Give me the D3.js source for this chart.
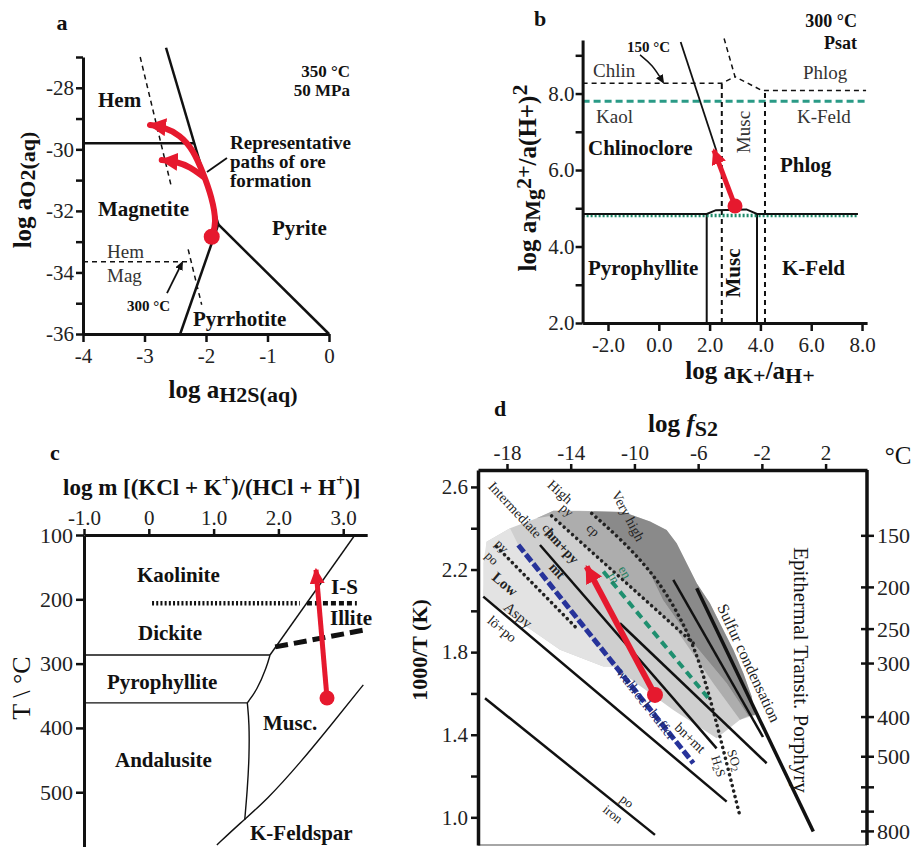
<!DOCTYPE html>
<html><head><meta charset="utf-8">
<script src="https://cdn.jsdelivr.net/npm/d3@7"></script>
<style>body{margin:0;background:#fff}svg{display:block}text{font-family:"Liberation Serif","Times New Roman",serif}</style>
</head><body><svg id="fig" width="919" height="847"></svg>
<script>
// ================= DATA =================
// ---- Panel a : log aO2 vs log aH2S, 350 °C 50 MPa
const aXTicks = [-4,-3,-2,-1,0];
const aYTicks = [-36,-35,-34,-33,-32,-31,-30,-29,-28,-27];
const aYLabels = [-36,-34,-32,-30,-28];
const aHemPy = [[-2.65,-26.7],[-1.80,-32.44]];
const aPyPo = [[-1.80,-32.44],[0,-36]];
const aMagPo = [[-1.80,-32.44],[-2.42,-36]];
const aHemMag = [[-4,-29.8],[-2.19,-29.8]];
const aHemPy300 = [[-3.07,-27.0],[-2.56,-31.24]];
const aHemMag300 = [[-4,-33.65],[-2.26,-33.65]];
const aMagPo300 = [[-2.29,-33.25],[-2.07,-35.05]];
const aPath1 = [[-1.907,-32.84],[-1.826,-32.40],[-1.907,-31.54],[-2.044,-30.78],[-2.207,-30.02],[-2.423,-29.53],[-2.694,-29.27],[-2.911,-29.21]];
const aPath2 = [[-2.044,-30.89],[-2.260,-30.57],[-2.476,-30.40],[-2.720,-30.35]];
const aStart = [-1.907,-32.84];
const aLeader = [[-1.984,-30.74],[-1.659,-30.28]];
const a300Arrow = [[-2.634,-34.67],[-2.39,-33.69]];

// ---- Panel b : log aMg2+/a(H+)2 vs log aK+/aH+, 300 °C Psat
const bXTicks = [-2,0,2,4,6,8];
const bYTicks = [2,3,4,5,6,7,8,9];
const bYLabels = [2,4,6,8];
const bHoriz = [[-3,4.85],[1.886,4.85],[2.25,4.95],[3.45,4.97],[3.866,4.85],[7.84,4.85]];
const bGreenDotted = [[-3,4.81],[7.84,4.81]];
const bVert1 = [[1.886,2],[1.886,4.85]];
const bVert2 = [[3.866,2],[3.866,4.85]];
const bVertDash1 = [[2.48,2],[2.48,8.27]];
const bVertDash2 = [[4.18,2],[4.18,8.08]];
const bChlinDash = [[-3,8.27],[2.48,8.27],[3.0,8.44]];
const bUpperDash = [[2.57,9.44],[3.0,8.44],[4.06,8.08],[8.16,8.08]];
const bGreenDash = [[-3,7.80],[8.16,7.80]];
const b150Line = [[0.86,9.35],[2.28,6.48]];
const bRedPath = [[3.0,5.06],[2.17,6.52]];
const b150Arrow = [[-0.74,9.01],[-0.25,8.75],[0.165,8.30]];

// ---- Panel c : T vs log m[(KCl+K+)/(HCl+H+)]
const cXTicks = [-1,0,1,2,3];
const cYTicks = [100,200,300,400,500];
const cKaolMusc = [[3.18,100],[1.87,286.6]];
const cDickPyro = [[-1,286.6],[1.87,286.6]];
const cPyroCurve = [[1.87,286.6],[1.82,305],[1.67,341],[1.52,361]];
const cPyroAnd = [[-1,361],[1.52,361]];
const cAndCurve = [[1.52,361],[1.55,392],[1.55,445],[1.52,497],[1.48,543]];
const cKfs = [[3.31,333],[2.84,392],[2.33,455],[1.82,512],[1.41,548],[1.05,582]];
const cKaolDickDots = [[0.05,206],[2.33,206]];
const cKaolDickDash = [[2.44,206],[3.21,206]];
const cIllite = [[1.95,274],[3.31,248]];
const cRedPath = [[2.75,353.5],[2.58,154]];

// ---- Panel d : 1000/T vs log fS2
const dTopTicks = [-18,-14,-10,-6,-2,2];
const dLeftTicks = [1.0,1.2,1.4,1.6,1.8,2.0,2.2,2.4,2.6];
const dLeftLabels = [1.0,1.4,1.8,2.2,2.6];
const dRightTicks = [150,200,250,300,400,500,600,700,800];
const dRightLabels = [150,200,250,300,400,500,800];
const dTopEdge = [[-19.28,2.335],[-17.81,2.400],[-16.14,2.448],[-15.09,2.485],[-13.42,2.485],[-10.70,2.479],[-9.02,2.432],[-7.98,2.392],[-7.35,2.327],[-6.72,2.230],[-6.09,2.134],[-5.26,2.037],[-4.63,1.940],[-3.79,1.811],[-3.16,1.698],[-2.64,1.585],[-2.43,1.496]];
const dLightLower = [[-3.37,1.472],[-4.84,1.383],[-7.56,1.520],[-11.33,1.730],[-11.95,1.730],[-14.67,1.811],[-19.49,2.069]];
const dVeryLight = [[-19.49,2.230],[-19.28,2.335],[-17.81,2.400],[-17.29,2.319],[-11.33,1.730],[-11.95,1.730],[-14.67,1.811],[-19.49,2.069]];
const dMedium = [[-16.14,2.448],[-15.09,2.485],[-12.58,2.482],[-12.58,2.472],[-10.91,2.351],[-9.23,2.214],[-8.21,2.053],[-6.30,1.843],[-4.21,1.649],[-2.85,1.491],[-3.37,1.472],[-5.05,1.649],[-7.56,1.930],[-15.20,2.460]];
const dDark = [[-12.58,2.482],[-10.70,2.479],[-9.02,2.432],[-7.98,2.392],[-7.35,2.327],[-6.72,2.230],[-6.09,2.134],[-5.26,2.037],[-4.63,1.940],[-3.79,1.811],[-3.16,1.698],[-2.64,1.585],[-2.43,1.496],[-2.85,1.491],[-4.21,1.649],[-6.30,1.843],[-8.21,2.053],[-9.23,2.214],[-10.91,2.351],[-12.58,2.472]];
const dPoIron = [[-19.38,1.577],[-8.71,0.915]];
const dLow = [[-19.49,2.069],[-4.21,1.076]];
const dBlue = [[-17.29,2.319],[-6.30,1.262]];
const dPyPo = [[-18.65,2.311],[-13.63,1.916]];
const dHmPy = [[-15.93,2.319],[-4.84,1.334]];
const dHigh = [[-15.20,2.460],[-6.30,1.843]];
const dVeryHigh = [[-12.68,2.472],[-10.91,2.351],[-9.23,2.214],[-7.98,2.085],[-6.72,1.908],[-5.88,1.746],[-5.05,1.520],[-4.21,1.262],[-3.37,1.004]];
const dGreen = [[-11.95,2.190],[-5.36,1.577]];
const dLine7 = [[-10.91,1.940],[-1.70,1.262]];
const dLine8 = [[-7.56,2.150],[-1.93,1.389]];
const dSulfur = [[-6.09,2.109],[1.23,0.931]];
const dRedPath = [[-8.71,1.593],[-13.0,2.214]];

// ================= DRAWING =================
const svg = d3.select("#fig");
const defs = svg.append("defs");
const RED = "#e6192e";
function marker(id, color, w, h) {
  defs.append("marker").attr("id", id).attr("viewBox", `0 0 ${w} ${h}`)
    .attr("refX", w - 2).attr("refY", h / 2).attr("markerWidth", w).attr("markerHeight", h)
    .attr("markerUnits", "userSpaceOnUse").attr("orient", "auto")
    .append("path").attr("d", `M0,0L${w},${h / 2}L0,${h}Z`).attr("fill", color);
}
marker("redA", RED, 18, 18);
marker("redS", RED, 16, 15);
marker("blk", "#111", 9, 8);

function path(g, xs, ys, pts, attrs, curve) {
  const gen = d3.line().x(d => xs(d[0])).y(d => ys(d[1]));
  if (curve) gen.curve(curve);
  const p = g.append("path").attr("d", gen(pts)).attr("fill", "none").attr("stroke", "#111");
  for (const k in attrs) p.attr(k, attrs[k]);
  return p;
}
function area(g, xs, ys, pts, fill) {
  g.append("path").attr("d", d3.line().x(d => xs(d[0])).y(d => ys(d[1]))(pts) + "Z")
    .attr("fill", fill).attr("stroke", "none");
}
function text(g, x, y, s, o = {}) {
  const t = g.append("text").attr("x", x).attr("y", y)
    .attr("font-size", o.size || 21).attr("font-weight", o.weight || "bold")
    .attr("text-anchor", o.anchor || "start").attr("dominant-baseline", "central")
    .attr("fill", o.fill || "#111");
  if (o.rotate != null) t.attr("transform", `rotate(${o.rotate},${x},${y})`);
  if (o.italic) t.attr("font-style", "italic");
  if (Array.isArray(s)) {
    let prev = 0;
    s.forEach(p => {
      const sh = p.shift || 0;
      const ts = t.append("tspan").attr("dy", sh - prev).attr("font-size", p.size || o.size || 21).text(p.t);
      if (p.italic) ts.attr("font-style", "italic");
      prev = sh;
    });
  } else t.text(s);
  return t;
}
function styleAxis(g, size, dw) {
  g.attr("font-family", '"Liberation Serif",serif').attr("font-size", size);
  g.select(".domain").attr("stroke", "#111").attr("stroke-width", dw || 3);
  g.selectAll(".tick line").attr("stroke", "#111").attr("stroke-width", 2.5);
  g.selectAll(".tick text").attr("fill", "#222");
}
function dot(g, xs, ys, p, r) {
  g.append("circle").attr("cx", xs(p[0])).attr("cy", ys(p[1])).attr("r", r).attr("fill", RED);
}

// ---------- Panel a ----------
{
  const g = svg.append("g");
  const x = d3.scaleLinear().domain([-4, 0]).range([83, 329]);
  const y = d3.scaleLinear().domain([-36, -27]).range([334, 57]);
  path(g, x, y, aHemPy300, {"stroke-width": 1.5, "stroke-dasharray": "5,4"});
  path(g, x, y, aHemMag300, {"stroke-width": 1.5, "stroke-dasharray": "5,4"});
  path(g, x, y, aMagPo300, {"stroke-width": 1.5, "stroke-dasharray": "5,4"});
  path(g, x, y, aHemPy, {"stroke-width": 2.5});
  path(g, x, y, aPyPo, {"stroke-width": 2.5});
  path(g, x, y, aMagPo, {"stroke-width": 2.5});
  path(g, x, y, aHemMag, {"stroke-width": 2.5});
  path(g, x, y, aLeader, {"stroke-width": 1.8});
  path(g, x, y, a300Arrow, {"stroke-width": 1.8, "marker-end": "url(#blk)"});
  path(g, x, y, aPath1, {"stroke": RED, "stroke-width": 6, "marker-end": "url(#redA)", "stroke-linecap": "round"}, d3.curveBasis);
  path(g, x, y, aPath2, {"stroke": RED, "stroke-width": 6, "marker-end": "url(#redA)", "stroke-linecap": "round"}, d3.curveBasis);
  dot(g, x, y, aStart, 8);
  const gx = g.append("g").attr("transform", "translate(0,334)")
    .call(d3.axisBottom(x).tickValues(aXTicks).tickFormat(String).tickSize(8).tickSizeOuter(0).tickPadding(6));
  styleAxis(gx, 21);
  const gy = g.append("g").attr("transform", "translate(83,0)")
    .call(d3.axisLeft(y).tickValues(aYTicks).tickFormat(d => aYLabels.includes(d) ? String(d) : "").tickSize(7).tickSizeOuter(0).tickPadding(2));
  styleAxis(gy, 21);
  text(g, 62, 22, "a", {size: 22, anchor: "middle"});
  text(g, 350, 71, "350 °C", {size: 17, anchor: "end"});
  text(g, 350, 90, "50 MPa", {size: 17, anchor: "end"});
  text(g, 98, 100, "Hem");
  text(g, 230, 142, "Representative", {size: 19});
  text(g, 230, 161, "paths of ore", {size: 19});
  text(g, 230, 180, "formation", {size: 19});
  text(g, 98, 209, "Magnetite");
  text(g, 272, 228, "Pyrite");
  text(g, 107, 251, "Hem", {size: 19, weight: "normal", fill: "#333"});
  text(g, 107, 275, "Mag", {size: 19, weight: "normal", fill: "#333"});
  text(g, 127, 306, "300 °C", {size: 15});
  text(g, 193, 319, "Pyrrhotite");
  text(g, 233, 389, [{t: "log a"}, {t: "H2S(aq)", shift: 5, size: 22}], {size: 25, anchor: "middle"});
  text(g, 22, 190, [{t: "log a"}, {t: "O2(aq)", shift: 5, size: 22}], {size: 25, anchor: "middle", rotate: -90});
}

// ---------- Panel b ----------
{
  const g = svg.append("g");
  const x = d3.scaleLinear().domain([-3, 8.2]).range([582.6, 867.1]);
  const y = d3.scaleLinear().domain([2, 9.4]).range([323, 40]);
  const dash = {"stroke-width": 1.5, "stroke-dasharray": "5,4"};
  path(g, x, y, bGreenDash, {"stroke": "#2a9a86", "stroke-width": 3, "stroke-dasharray": "7,4"});
  path(g, x, y, bChlinDash, dash);
  path(g, x, y, bUpperDash, dash);
  path(g, x, y, bVertDash1, {"stroke-width": 2, "stroke-dasharray": "5,4"});
  path(g, x, y, bVertDash2, {"stroke-width": 2, "stroke-dasharray": "5,4"});
  path(g, x, y, bVert1, {"stroke-width": 2});
  path(g, x, y, bVert2, {"stroke-width": 2});
  path(g, x, y, bGreenDotted, {"stroke": "#1d8a6a", "stroke-width": 3.5, "stroke-dasharray": "2,2"});
  path(g, x, y, bHoriz, {"stroke-width": 2});
  path(g, x, y, b150Line, {"stroke-width": 1.8});
  path(g, x, y, b150Arrow, {"stroke-width": 1.5, "marker-end": "url(#blk)"}, d3.curveBasis);
  path(g, x, y, bRedPath, {"stroke": RED, "stroke-width": 5, "marker-end": "url(#redS)"});
  dot(g, x, y, bRedPath[0], 7.5);
  const gx = g.append("g").attr("transform", "translate(0,323)")
    .call(d3.axisBottom(x).tickValues(bXTicks).tickFormat(d3.format(".1f")).tickSize(8).tickSizeOuter(0).tickPadding(6));
  gx.selectAll(".tick text").text(d => (d < 0 ? "-" : "") + Math.abs(d).toFixed(1));
  styleAxis(gx, 21);
  const gy = g.append("g").attr("transform", "translate(582.6,0)")
    .call(d3.axisLeft(y).tickValues(bYTicks).tickFormat(d => bYLabels.includes(d) ? d.toFixed(1) : "").tickSize(7).tickSizeOuter(0).tickPadding(1));
  styleAxis(gy, 21);
  text(g, 540, 18, "b", {size: 22, anchor: "middle"});
  text(g, 857, 21, "300 °C", {size: 18, anchor: "end"});
  text(g, 857, 43, "Psat", {size: 18, anchor: "end"});
  text(g, 627, 47, "150 °C", {size: 15});
  const reg = {size: 19, weight: "normal", fill: "#333"};
  text(g, 593, 70, "Chlin", reg);
  text(g, 596, 116, "Kaol", reg);
  text(g, 803, 72, "Phlog", reg);
  text(g, 797, 116, "K-Feld", reg);
  text(g, 743, 132, "Musc", Object.assign({anchor: "middle", rotate: -90}, reg));
  text(g, 588, 148, "Chlinoclore");
  text(g, 780, 165, "Phlog");
  text(g, 588, 268, "Pyrophyllite");
  text(g, 733, 273, "Musc", {anchor: "middle", rotate: -90});
  text(g, 782, 268, "K-Feld");
  text(g, 750, 370, [{t: "log a"}, {t: "K+", shift: 5, size: 22}, {t: "/a", shift: 0}, {t: "H+", shift: 5, size: 22}], {size: 25, anchor: "middle"});
  text(g, 527, 178, [{t: "log a"}, {t: "Mg", shift: 5, size: 22}, {t: "2+", shift: -4, size: 22}, {t: "/a(H+)", shift: 0}, {t: "2", shift: -8, size: 22}], {size: 25, anchor: "middle", rotate: -90});
}

// ---------- Panel c ----------
{
  const g = svg.append("g");
  const x = d3.scaleLinear().domain([-1, 3.37]).range([84, 367.2]);
  const y = d3.scaleLinear().domain([100, 585]).range([535, 846.9]);
  const thin = {"stroke-width": 1.4};
  path(g, x, y, cKaolMusc, thin);
  path(g, x, y, cDickPyro, thin);
  path(g, x, y, cPyroCurve, thin, d3.curveBasis);
  path(g, x, y, cPyroAnd, thin);
  path(g, x, y, cAndCurve, thin, d3.curveBasis);
  path(g, x, y, cKfs, thin, d3.curveBasis);
  path(g, x, y, cKaolDickDots, {"stroke-width": 4.5, "stroke-dasharray": "2,2.2"});
  path(g, x, y, cKaolDickDash, {"stroke-width": 4.5, "stroke-dasharray": "5,3"});
  path(g, x, y, cIllite, {"stroke-width": 5, "stroke-dasharray": "13,6"});
  path(g, x, y, cRedPath, {"stroke": RED, "stroke-width": 5, "marker-end": "url(#redS)"});
  dot(g, x, y, cRedPath[0], 7.5);
  const gx = g.append("g").attr("transform", "translate(0,535)")
    .call(d3.axisTop(x).tickValues(cXTicks).tickFormat(d => d === 0 ? "0" : (d < 0 ? "-" : "") + Math.abs(d).toFixed(1)).tickSize(6).tickSizeOuter(0).tickPadding(4));
  styleAxis(gx, 21);
  const gy = g.append("g").attr("transform", "translate(84,0)")
    .call(d3.axisLeft(y).tickValues(cYTicks).tickFormat(String).tickSize(8).tickSizeOuter(0).tickPadding(3));
  styleAxis(gy, 22);
  text(g, 55, 452, "c", {size: 22, anchor: "middle"});
  text(g, 63, 487, [{t: "log m [(KCl + K"}, {t: "+", shift: -7, size: 16}, {t: ")/(HCl + H", shift: 0}, {t: "+", shift: -7, size: 16}, {t: ")]", shift: 0}], {size: 23});
  text(g, 137, 575, "Kaolinite");
  text(g, 331, 587, "I-S");
  text(g, 330, 618, "Illite");
  text(g, 138, 633, "Dickite");
  text(g, 107, 682, "Pyrophyllite");
  text(g, 263, 723, "Musc.");
  text(g, 115, 760, "Andalusite");
  text(g, 250, 833, "K-Feldspar");
  text(g, 21, 688, "T \\ °C", {size: 26, weight: "normal", anchor: "middle", rotate: -90});
}

// ---------- Panel d ----------
{
  const g = svg.append("g");
  const x = d3.scaleLinear().domain([-19.82, 4.60]).range([478, 867]);
  const y = d3.scaleLinear().domain([0.866, 2.682]).range([845, 470]);
  area(g, x, y, dTopEdge.concat(dLightLower), "#cfcfcf");
  area(g, x, y, dVeryLight, "#e3e3e3");
  area(g, x, y, dMedium, "#adadad");
  area(g, x, y, dDark, "#8a8a8a");
  const solid = {"stroke-width": 2.5};
  const dots = {"stroke-width": 3.5, "stroke-dasharray": "0.1,5.5", "stroke-linecap": "round", "stroke": "#222"};
  path(g, x, y, dPoIron, solid);
  path(g, x, y, dLow, solid);
  path(g, x, y, dPyPo, dots);
  path(g, x, y, dBlue, {"stroke": "#27339a", "stroke-width": 5, "stroke-dasharray": "9,3"});
  path(g, x, y, dHmPy, solid);
  path(g, x, y, dHigh, dots);
  path(g, x, y, dVeryHigh, dots, d3.curveBasis);
  path(g, x, y, dGreen, {"stroke": "#1f8f6f", "stroke-width": 4, "stroke-dasharray": "8,5"});
  path(g, x, y, dLine7, solid);
  path(g, x, y, dLine8, solid);
  path(g, x, y, dSulfur, {"stroke-width": 3.5});
  path(g, x, y, dRedPath, {"stroke": RED, "stroke-width": 6, "marker-end": "url(#redA)"});
  dot(g, x, y, dRedPath[0], 8);
  // frame
  g.append("line").attr("x1", x.range()[0]).attr("x2", x.range()[1]).attr("y1", y.range()[0]).attr("y2", y.range()[0]).attr("stroke", "#888").attr("stroke-width", 1.5);
  g.append("line").attr("x1", x.range()[1]).attr("x2", x.range()[1]).attr("y1", y.range()[1]).attr("y2", y.range()[0]).attr("stroke", "#111").attr("stroke-width", 3.5);
  const gx = g.append("g").attr("transform", "translate(0,470)")
    .call(d3.axisTop(x).tickValues(dTopTicks).tickFormat(String).tickSize(6).tickSizeOuter(0).tickPadding(4));
  styleAxis(gx, 21, 3.5);
  const gy = g.append("g").attr("transform", "translate(478,0)")
    .call(d3.axisLeft(y).tickValues(dLeftTicks).tickFormat(d => dLeftLabels.some(v => Math.abs(v - d) < 1e-9) ? d.toFixed(1) : "").tickSize(7).tickSizeOuter(0).tickPadding(3));
  styleAxis(gy, 21, 3.5);
  dRightTicks.forEach(T => {
    const yy = y(1000 / (T + 273.15));
    g.append("line").attr("x1", 861).attr("x2", 874).attr("y1", yy).attr("y2", yy).attr("stroke", "#111").attr("stroke-width", 2.5);
    if (dRightLabels.includes(T)) text(g, 877, yy, String(T), {size: 22, weight: "normal", fill: "#222"});
  });
  text(g, 500, 408, "d", {size: 22, anchor: "middle"});
  text(g, 683, 423, [{t: "log "}, {t: "f", italic: true}, {t: "S2", shift: 5, size: 22}], {size: 25, anchor: "middle"});
  text(g, 898, 455, "°C", {size: 25, weight: "normal", anchor: "middle"});
  text(g, 419, 650, "1000/T (K)", {size: 22, anchor: "middle", rotate: -90});
  const sm = (s, w) => ({size: s || 13, weight: w || "normal", fill: "#222", anchor: "middle"});
  text(g, 515, 510, "Intermediate", Object.assign(sm(14), {rotate: 47}));
  text(g, 560, 492, "High", Object.assign(sm(14), {rotate: 42}));
  text(g, 628, 516, "Very high", Object.assign(sm(14), {rotate: 62}));
  text(g, 567, 510, "py", Object.assign(sm(13), {rotate: 42}));
  text(g, 593, 530, "cp", Object.assign(sm(13), {rotate: 42}));
  text(g, 614, 578, "tn", Object.assign(sm(13), {rotate: 60, fill: "#1f7f5f"}));
  text(g, 625, 572, "en", Object.assign(sm(13), {rotate: 60, fill: "#1f7f5f"}));
  text(g, 549, 530, "cp", Object.assign(sm(13), {rotate: 47}));
  text(g, 562, 546, "hm+py", Object.assign(sm(14, "bold"), {rotate: 47}));
  text(g, 557, 571, "mt", Object.assign(sm(14, "bold"), {rotate: 47}));
  text(g, 502, 546, "py", Object.assign(sm(13), {rotate: 45}));
  text(g, 492, 558, "po", Object.assign(sm(13), {rotate: 45}));
  text(g, 505, 584, "Low", Object.assign(sm(15, "bold"), {rotate: 40}));
  text(g, 518, 615, "Aspy", Object.assign(sm(15), {rotate: 40}));
  text(g, 502, 629, "lö+po", Object.assign(sm(14), {rotate: 40}));
  text(g, 646, 704, "wallrock buffer", Object.assign(sm(14), {rotate: 52, fill: "#1d2a6a"}));
  text(g, 690, 738, "bn+mt", Object.assign(sm(14), {rotate: 44}));
  text(g, 735, 760, [{t: "SO"}, {t: "2", shift: 3, size: 10}], Object.assign(sm(13), {rotate: 72}));
  text(g, 719, 766, [{t: "H"}, {t: "2", shift: 3, size: 10}, {t: "S", shift: 0}], Object.assign(sm(13), {rotate: 72}));
  text(g, 749, 663, "Sulfur condensation", Object.assign(sm(16), {rotate: 65}));
  text(g, 801, 670, "Epithermal Transit. Porphyry", Object.assign(sm(21), {rotate: 90, fill: "#111"}));
  text(g, 627, 801, "po", Object.assign(sm(13), {rotate: 39}));
  text(g, 613, 814, "iron", Object.assign(sm(13), {rotate: 39}));
}
</script></body></html>
